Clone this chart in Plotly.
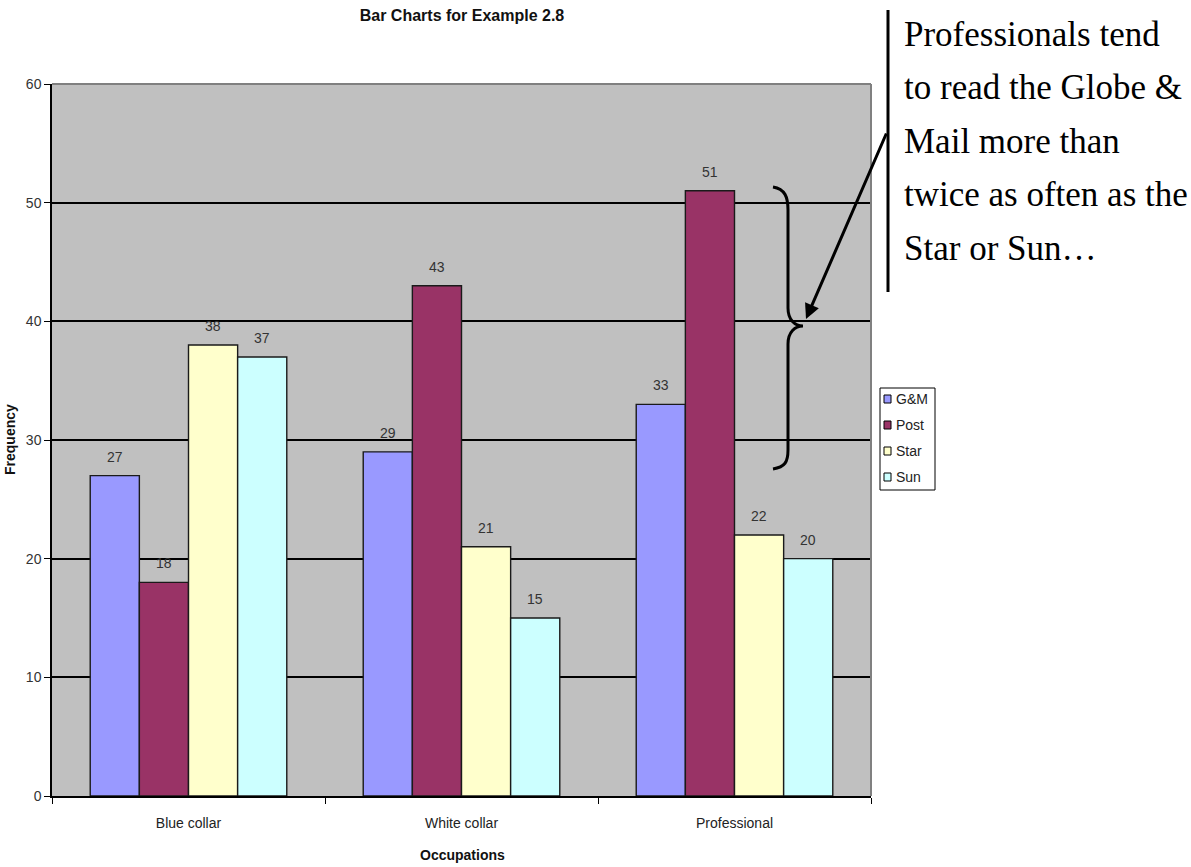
import plotly.graph_objects as go

# Readership counts by occupation and newspaper
occupations = ["Blue collar", "White collar", "Professional"]
papers = ["G&M", "Post", "Star", "Sun"]
gm = [27, 29, 33]
post = [18, 43, 51]
star = [38, 21, 22]
sun = [37, 15, 20]
y_ticks = [0, 10, 20, 30, 40, 50, 60]
note_lines = ["Professionals tend", "to read the Globe &", "Mail more than",
              "twice as often as the", "Star or Sun…"]

series = [gm, post, star, sun]
colors = ["#9999FF", "#993366", "#FFFFCC", "#CCFFFF"]

W, H = 1191, 867
L, R, T, B = 52, 871, 84, 796  # plot area edges in pixels
FONT = "Liberation Sans Narrow, Arial Narrow, Liberation Sans, Arial"
BARGAP = 0.28


def px(x):
    return (x - L) / (R - L)


def py(y):
    return (B - y) / (B - T)


fig = go.Figure()
n = len(series)
bar_w = (1 - BARGAP) / n
for j, (name, vals, col) in enumerate(zip(papers, series, colors)):
    fig.add_trace(go.Bar(
        x=occupations, y=vals, name=name, showlegend=False,
        marker=dict(color=col, line=dict(color="#1a1a1a", width=1.4)),
    ))
    # value labels above each bar
    for i, v in enumerate(vals):
        fig.add_annotation(x=i + (j - (n - 1) / 2) * bar_w, y=v, xref="x", yref="y",
                           text=str(v), showarrow=False, yanchor="bottom", yshift=9,
                           font=dict(family=FONT, size=14, color="#333333"))

fig.update_layout(
    width=W, height=H,
    margin=dict(l=L, r=W - R, t=T, b=H - B, pad=0),
    paper_bgcolor="white", plot_bgcolor="#C0C0C0",
    barmode="group", bargap=BARGAP, bargroupgap=0,
    font=dict(family=FONT, size=14, color="#222222"),
    title=dict(text="<b>Bar Charts for Example 2.8</b>", x=px(462), xref="paper",
               xanchor="center", y=1 - 15 / H, yanchor="middle",
               font=dict(family=FONT, size=16, color="#111111")),
    showlegend=False,
)

fig.update_yaxes(range=[0, 60], tickvals=y_ticks, showgrid=True, gridcolor="black",
                 gridwidth=1.8, zeroline=False, showline=True, linecolor="black",
                 linewidth=1.5, ticks="outside", ticklen=6, tickcolor="black",
                 tickfont=dict(family=FONT, size=14, color="#333333"))
fig.update_xaxes(showgrid=False, showline=True, linecolor="black", linewidth=1.5,
                 ticks="outside", tickson="boundaries", ticklen=6, tickcolor="black",
                 tickfont=dict(family=FONT, size=14, color="#222222"),
                 ticklabelstandoff=13)

# Grey frame on the top and right of the plot area
fig.add_shape(type="line", xref="paper", yref="paper", x0=0, x1=1, y0=1, y1=1,
              line=dict(color="#808080", width=2))
fig.add_shape(type="line", xref="paper", yref="paper", x0=1, x1=1, y0=0, y1=1,
              line=dict(color="#808080", width=2))

# Axis titles
fig.add_annotation(text="<b>Frequency</b>", xref="paper", yref="paper",
                   x=px(10), y=py(440), textangle=-90, showarrow=False,
                   xshift=-10, font=dict(family=FONT, size=14, color="#111111"))
fig.add_annotation(text="<b>Occupations</b>", xref="paper", yref="paper",
                   x=px(462), y=py(855), showarrow=False, yshift=-10,
                   font=dict(family=FONT, size=14, color="#111111"))

# Compact legend box
lx0, lx1, ly0, ly1 = 880, 935, 388, 490
fig.add_shape(type="rect", xref="paper", yref="paper", x0=px(lx0), x1=px(lx1),
              y0=py(ly0), y1=py(ly1), fillcolor="white",
              line=dict(color="black", width=1))
for k, (name, col) in enumerate(zip(papers, colors)):
    cy = 399 + 26 * k
    fig.add_shape(type="rect", xref="paper", yref="paper", x0=px(884), x1=px(891),
                  y0=py(cy - 4), y1=py(cy + 4), fillcolor=col,
                  line=dict(color="black", width=1))
    fig.add_annotation(text=name, xref="paper", yref="paper", x=px(894), y=py(cy),
                       xanchor="left", yanchor="middle", showarrow=False,
                       font=dict(family=FONT, size=14, color="#222222"))

# Callout text block with its vertical rule
for i, line in enumerate(note_lines):
    fig.add_annotation(text=line, xref="paper", yref="paper", x=px(902),
                       y=py(34 + 53.5 * i), xanchor="left", yanchor="middle",
                       showarrow=False,
                       font=dict(family="Liberation Serif, Times New Roman, serif",
                                 size=35, color="black"))
fig.add_shape(type="line", xref="paper", yref="paper", x0=px(888), x1=px(888),
              y0=py(10), y1=py(292), line=dict(color="black", width=3))

# Arrow pointing to the brace
fig.add_annotation(x=px(806), y=py(319), xref="paper", yref="paper", text="",
                   showarrow=True, arrowhead=2, arrowsize=1, arrowwidth=3,
                   arrowcolor="black", ax=887 - 806, ay=132 - 319,
                   axref="pixel", ayref="pixel")

# Curly brace spanning the Professional G&M bar height
pts = [("M", [(773, 187)]),
       ("C", [(785, 189), (788, 197), (788, 210)]),
       ("L", [(788, 308)]),
       ("C", [(788, 320), (795, 326), (803, 326)]),
       ("C", [(795, 326), (788, 332), (788, 344)]),
       ("L", [(788, 450)]),
       ("C", [(788, 462), (785, 467), (773, 469)])]
path = " ".join(cmd + " " + " ".join(f"{px(x):.5f},{py(y):.5f}" for x, y in p)
                for cmd, p in pts)
fig.add_shape(type="path", path=path, xref="paper", yref="paper",
              line=dict(color="black", width=3))

fig.write_html("out.html")
